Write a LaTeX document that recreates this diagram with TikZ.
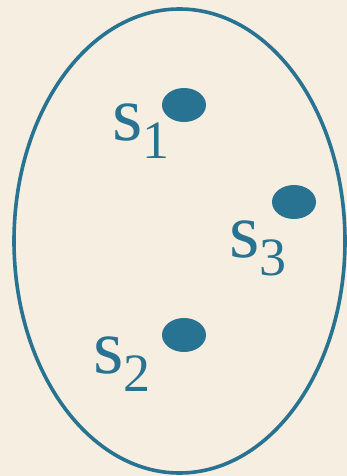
\documentclass[tikz,border=0pt]{standalone}
\usepackage{fontspec}
\setmainfont{Liberation Serif}
\definecolor{setcol}{RGB}{40,115,145}
\definecolor{bgcol}{RGB}{246,238,224}
\tikzset{
  state dot/.style={ellipse, fill=setcol, minimum width=44pt, minimum height=34pt, inner sep=0},
  state label/.style={anchor=base west, inner sep=0, text=setcol,
                      font=\fontsize{78}{90}\selectfont},
}
\newcommand{\lowsub}[1]{\raisebox{-0.24em}{\fontsize{54}{60}\selectfont #1}}
\usetikzlibrary{shapes.geometric}

\begin{document}
\begin{tikzpicture}[x=1pt, y=-1pt]
        % 1 unit = 1 px of the 347 x 476 frame, y grows downwards
        \fill[bgcol] (0,0) rectangle (347,476);
        \useasboundingbox (0,0) rectangle (347,476);

        % ---- the set ----
        \node[ellipse, draw=setcol, line width=3.6pt, minimum width=331pt,
              minimum height=464pt, inner sep=0] (set) at (179.5,241) {};

        % ---- states ----
        \node[state dot] (d1) at (184,105) {};
        \node[state dot] (d3) at (294,202) {};
        \node[state dot] (d2) at (184,335) {};

        \node[state label] (s1) at (112,140) {s\lowsub{1}};
        \node[state label] (s3) at (229,257) {s\lowsub{3}};
        \node[state label] (s2) at (93,373) {s\lowsub{2}};
      \end{tikzpicture}
\end{document}
